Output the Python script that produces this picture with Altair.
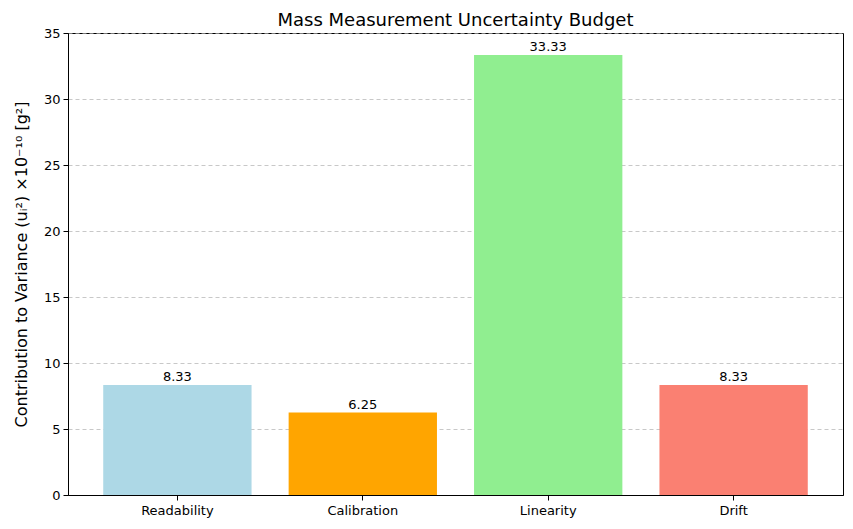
import altair as alt
import pandas as pd

categories = ["Readability", "Calibration", "Linearity", "Drift"]
values = [8.33, 6.25, 33.33, 8.33]
colors = ["#ADD8E6", "#FFA500", "#90EE90", "#FA8072"]
labels = ["8.33", "6.25", "33.33", "8.33"]

df = pd.DataFrame({"component": categories, "value": values, "label": labels})

x = alt.X("component:N", sort=categories, title=None,
          scale=alt.Scale(paddingInner=0.2, paddingOuter=0.19),
          axis=alt.Axis(labelAngle=0, labelFontSize=13, labelColor="black",
                        tickColor="black", tickSize=5, domainColor="black",
                        labelPadding=4, grid=False))
y = alt.Y("value:Q",
          scale=alt.Scale(domain=[0, 35], nice=False),
          title="Contribution to Variance (uᵢ²) ×10⁻¹⁰ [g²]",
          axis=alt.Axis(values=[0, 5, 10, 15, 20, 25, 30, 35], labelFontSize=13,
                        labelColor="black", tickColor="black", tickSize=5,
                        domainColor="black", grid=True, gridColor="#b0b0b0",
                        gridDash=[4, 3], gridOpacity=0.7, titleFontSize=16,
                        titleFontWeight="normal", titleColor="black",
                        titlePadding=14, labelPadding=3))

bars = alt.Chart(df).mark_bar().encode(
    x=x, y=y,
    color=alt.Color("component:N", sort=categories,
                    scale=alt.Scale(domain=categories, range=colors), legend=None),
)
text = alt.Chart(df).mark_text(baseline="bottom", dy=-1, fontSize=13, color="black",
                               font="DejaVu Sans").encode(
    x=alt.X("component:N", sort=categories),
    y="value:Q",
    text="label:N",
)

chart = (bars + text).properties(
    width=775, height=462,
    title=alt.TitleParams("Mass Measurement Uncertainty Budget", fontSize=18,
                          fontWeight="normal", color="black", offset=-3,
                          font="DejaVu Sans"),
    padding={"left": 60, "top": 25, "right": 2, "bottom": 26},
    autosize=alt.AutoSizeParams(type="none"),
).configure(font="DejaVu Sans").configure_view(stroke="black", strokeWidth=1)

chart.save("out.html", embed_options={"renderer": "svg", "actions": False})
